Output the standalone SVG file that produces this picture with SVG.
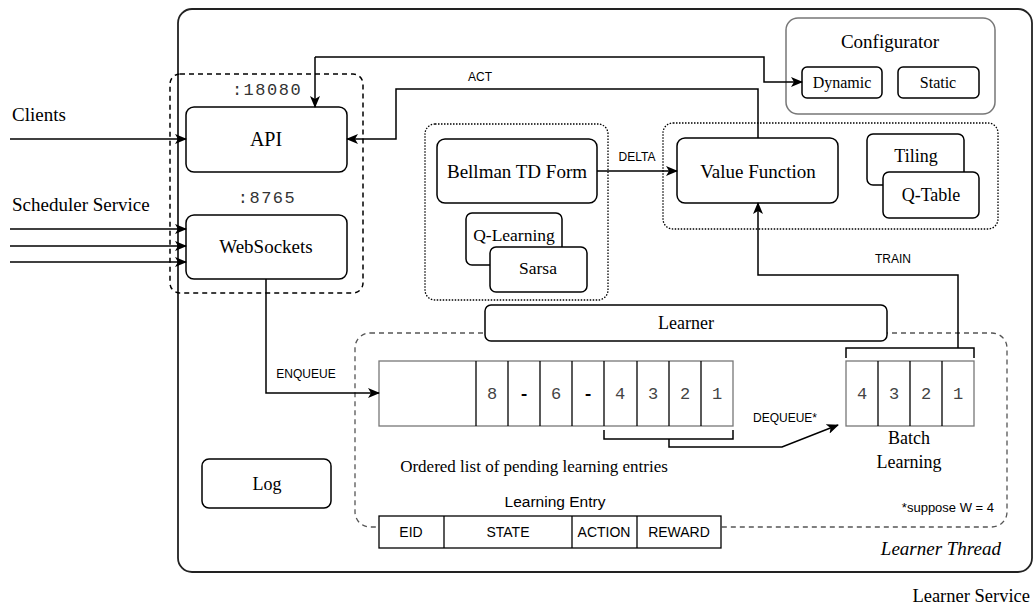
<svg xmlns="http://www.w3.org/2000/svg" width="1035" height="607" viewBox="0 0 1035 607">
<defs>
<marker id="arr" viewBox="0 0 12 10" refX="11" refY="5" markerWidth="12" markerHeight="10" markerUnits="userSpaceOnUse" orient="auto">
<path d="M0,0 L12,5 L0,10 L3,5 z" fill="#000"/>
</marker>
<style>
.box{fill:#fff;stroke:#000;stroke-width:1.5}
.serif{font-family:"Liberation Serif","Times New Roman",serif;fill:#000}
.sans{font-family:"Liberation Sans",Arial,sans-serif;fill:#000}
.mono{font-family:"Liberation Mono","Courier New",monospace;fill:#444}
.dotted{fill:none;stroke:#000;stroke-width:1.3;stroke-dasharray:1.5 1.5}
.dashed{fill:none;stroke:#000;stroke-width:1.5;stroke-dasharray:5 4}
.gdashed{fill:none;stroke:#555;stroke-width:1.3;stroke-dasharray:5 4}
.line{fill:none;stroke:#000;stroke-width:1.5}
.cell{fill:#fff;stroke:#777;stroke-width:1.3}
.div{stroke:#000;stroke-width:1.3}
.c{text-anchor:middle}
</style>
</defs>
<rect width="1035" height="607" fill="#fff"/>

<g id="learner-service">
<rect x="178" y="9" width="854" height="563" rx="14" fill="none" stroke="#222" stroke-width="1.8"/>
<text class="serif" font-family="Liberation Serif, serif" x="1030" y="602" font-size="18.5" text-anchor="end">Learner Service</text>
</g>

<g id="learner-thread">
<rect x="355" y="333" width="652" height="194" rx="15" class="gdashed"/>
<text class="serif" font-family="Liberation Serif, serif" x="1001" y="555" font-size="19" font-style="italic" text-anchor="end">Learner Thread</text>
<text class="sans" x="994" y="512" font-size="13" text-anchor="end">*suppose W = 4</text>
</g>

<g id="ports">
<rect x="170" y="74" width="193" height="219" rx="10" class="dashed"/>
<text class="mono" x="267" y="95" font-size="17" letter-spacing="1.5" text-anchor="middle" style="fill:#333">:18080</text>
<text class="mono" x="267" y="203" font-size="17" letter-spacing="1.5" text-anchor="middle" style="fill:#333">:8765</text>
</g>

<g id="api">
<rect x="186" y="107" width="161" height="65" rx="8" class="box"/>
<text class="serif c" font-family="Liberation Serif, serif" x="266" y="146" font-size="20">API</text>
</g>
<g id="websockets">
<rect x="186" y="215" width="161" height="64" rx="8" class="box"/>
<text class="serif c" font-family="Liberation Serif, serif" x="266" y="253" font-size="19">WebSockets</text>
</g>

<g id="clients-label"><text class="serif" font-family="Liberation Serif, serif" x="12" y="121" font-size="19">Clients</text></g>
<g id="scheduler-label"><text class="serif" font-family="Liberation Serif, serif" x="12" y="211" font-size="19">Scheduler Service</text></g>

<g id="configurator">
<rect x="786" y="18" width="209" height="96" rx="12" fill="#fff" stroke="#777" stroke-width="1.5"/>
<text class="serif c" font-family="Liberation Serif, serif" x="890" y="48" font-size="19">Configurator</text>
</g>
<g id="dynamic">
<rect x="802" y="67" width="80" height="31" rx="5" class="box"/>
<text class="serif c" font-family="Liberation Serif, serif" x="842" y="88" font-size="16">Dynamic</text>
</g>
<g id="static">
<rect x="898" y="67" width="81" height="31" rx="5" class="box"/>
<text class="serif c" font-family="Liberation Serif, serif" x="938" y="88" font-size="16">Static</text>
</g>

<g id="td-group">
<rect x="425" y="124" width="183" height="176" rx="10" class="dotted"/>
</g>
<g id="bellman">
<rect x="437" y="139" width="160" height="64" rx="8" class="box"/>
<text class="serif c" font-family="Liberation Serif, serif" x="517" y="178" font-size="19">Bellman TD Form</text>
</g>
<g id="qlearning">
<rect x="466" y="213" width="96" height="52" rx="6" class="box"/>
<text class="serif c" font-family="Liberation Serif, serif" x="514" y="241" font-size="17.5">Q-Learning</text>
</g>
<g id="sarsa">
<rect x="490" y="247" width="97" height="45" rx="6" class="box"/>
<text class="serif c" font-family="Liberation Serif, serif" x="538" y="274" font-size="17.5">Sarsa</text>
</g>

<g id="vf-group">
<rect x="663" y="123" width="335" height="106" rx="10" class="dotted"/>
</g>
<g id="value-function">
<rect x="677" y="138" width="161" height="65" rx="8" class="box"/>
<text class="serif c" font-family="Liberation Serif, serif" x="758" y="178" font-size="19">Value Function</text>
</g>
<g id="tiling">
<rect x="867" y="134" width="97" height="51" rx="6" class="box"/>
<text class="serif c" font-family="Liberation Serif, serif" x="916" y="162" font-size="18">Tiling</text>
</g>
<g id="qtable">
<rect x="883" y="172" width="96" height="46" rx="6" class="box"/>
<text class="serif c" font-family="Liberation Serif, serif" x="931" y="201" font-size="18">Q-Table</text>
</g>

<g id="learner">
<rect x="485" y="305" width="402" height="36" rx="6" class="box"/>
<text class="serif c" font-family="Liberation Serif, serif" x="686" y="329" font-size="18">Learner</text>
</g>

<g id="queue">
<rect x="379" y="361" width="354" height="65" class="cell"/>
<line class="div" x1="476" y1="361" x2="476" y2="426"/>
<line class="div" x1="508" y1="361" x2="508" y2="426"/>
<line class="div" x1="540" y1="361" x2="540" y2="426"/>
<line class="div" x1="572" y1="361" x2="572" y2="426"/>
<line class="div" x1="604" y1="361" x2="604" y2="426"/>
<line class="div" x1="637" y1="361" x2="637" y2="426"/>
<line class="div" x1="669" y1="361" x2="669" y2="426"/>
<line class="div" x1="701" y1="361" x2="701" y2="426"/>
<g class="mono" font-size="17" text-anchor="middle">
<text x="492" y="399">8</text>
<text x="524" y="399" style="fill:#000" font-weight="bold">-</text>
<text x="556" y="399">6</text>
<text x="588" y="399" style="fill:#000" font-weight="bold">-</text>
<text x="620" y="399">4</text>
<text x="653" y="399">3</text>
<text x="685" y="399">2</text>
<text x="717" y="399">1</text>
</g>
<text class="serif c" font-family="Liberation Serif, serif" x="534" y="472" font-size="17">Ordered list of pending learning entries</text>
</g>

<g id="batch">
<rect x="846" y="361" width="128" height="65" class="cell"/>
<line class="div" x1="878" y1="361" x2="878" y2="426"/>
<line class="div" x1="910" y1="361" x2="910" y2="426"/>
<line class="div" x1="942" y1="361" x2="942" y2="426"/>
<g class="mono" font-size="17" text-anchor="middle">
<text x="862" y="399">4</text>
<text x="894" y="399">3</text>
<text x="926" y="399">2</text>
<text x="958" y="399">1</text>
</g>
<path class="line" d="M846,358 V348 H974 V358"/>
<text class="serif c" font-family="Liberation Serif, serif" x="909" y="444" font-size="18">Batch</text>
<text class="serif c" font-family="Liberation Serif, serif" x="909" y="468" font-size="18">Learning</text>
</g>

<g id="log">
<rect x="202" y="459" width="129" height="49" rx="7" class="box"/>
<text class="serif c" font-family="Liberation Serif, serif" x="267" y="490" font-size="18">Log</text>
</g>

<g id="learning-entry">
<text class="sans c" x="555" y="507" font-size="15.5">Learning Entry</text>
<rect x="379" y="516" width="342" height="32" fill="#fff" stroke="#000" stroke-width="1.3"/>
<line class="div" x1="444" y1="516" x2="444" y2="548"/>
<line class="div" x1="572" y1="516" x2="572" y2="548"/>
<line class="div" x1="637" y1="516" x2="637" y2="548"/>
<g class="sans" font-size="14" text-anchor="middle">
<text x="411" y="537">EID</text>
<text x="508" y="537">STATE</text>
<text x="604" y="537">ACTION</text>
<text x="679" y="537">REWARD</text>
</g>
</g>

<g id="connectors">
<line class="line" x1="10" y1="139" x2="186" y2="139" marker-end="url(#arr)"/>
<line class="line" x1="10" y1="229" x2="186" y2="229" marker-end="url(#arr)"/>
<line class="line" x1="10" y1="246" x2="186" y2="246" marker-end="url(#arr)"/>
<line class="line" x1="10" y1="262" x2="186" y2="262" marker-end="url(#arr)"/>
<path class="line" d="M315,57 H764 V82 H802" marker-end="url(#arr)"/>
<path class="line" d="M315,57 V107" marker-end="url(#arr)"/>
<path class="line" d="M758,138 V89 H396 V139 H347" marker-end="url(#arr)"/>
<text class="sans c" x="480" y="81" font-size="12">ACT</text>
<line class="line" x1="597" y1="171" x2="677" y2="171" marker-end="url(#arr)"/>
<text class="sans c" x="637" y="161" font-size="12">DELTA</text>
<path class="line" d="M958,348 V275 H758 V203" marker-end="url(#arr)"/>
<text class="sans c" x="893" y="263" font-size="12">TRAIN</text>
<path class="line" d="M266,279 V393 H379" marker-end="url(#arr)"/>
<text class="sans c" x="306" y="378" font-size="12">ENQUEUE</text>
<path class="line" d="M604,430 V439 H733 V430"/>
<path class="line" d="M669,439 V447 H782 L838,425" marker-end="url(#arr)"/>
<text class="sans c" x="785" y="422" font-size="12">DEQUEUE*</text>
</g>
</svg>
